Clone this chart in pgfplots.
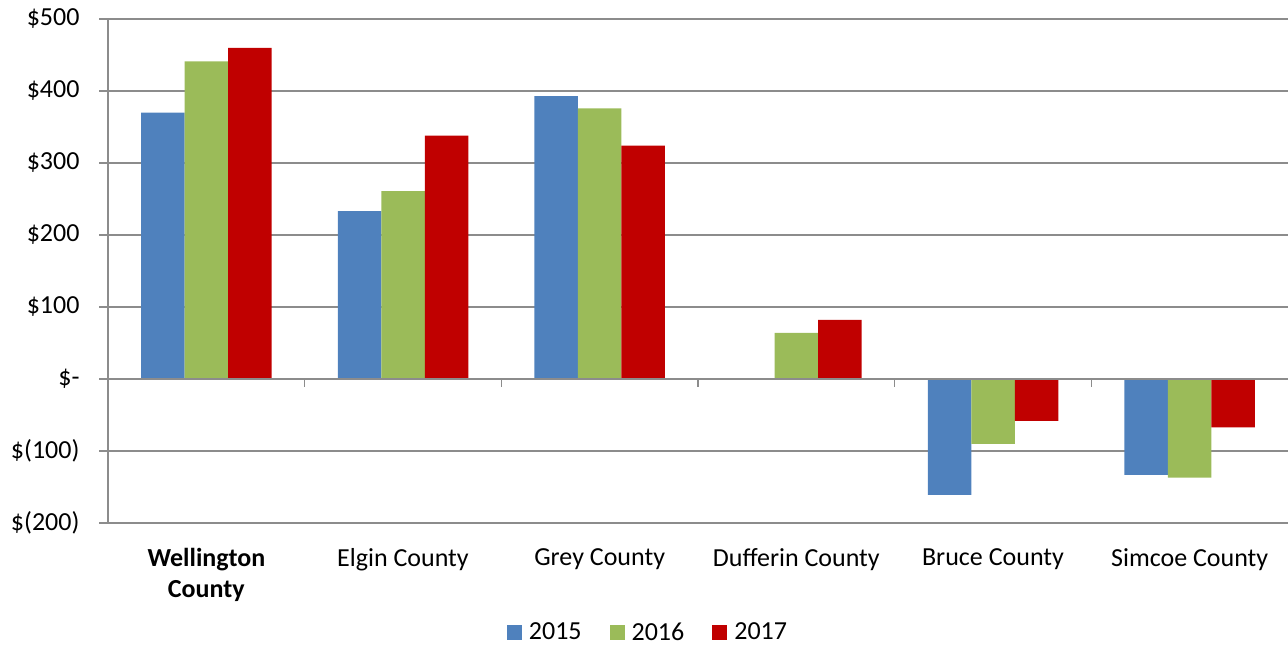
\documentclass[border=0pt]{standalone}
\usepackage{fontspec}
\setmainfont{Carlito}
\usepackage{pgfplots}
\pgfplotsset{compat=1.18}
\definecolor{c15}{HTML}{4F81BD}
\definecolor{c16}{HTML}{9BBB59}
\definecolor{c17}{HTML}{C00000}
\definecolor{gridc}{HTML}{8C8C8C}
\begin{document}
\begin{tikzpicture}
\begin{axis}[
  width=1180pt, height=504pt, scale only axis,
  xmin=-0.5, xmax=5.5, ymin=-200, ymax=500,
  ybar=0pt, bar width=43.5pt,
  axis lines*=left,
  axis line style={draw=gridc, line width=1.2pt},
  xtick={0,...,5},
  xticklabels={{\textbf{Wellington}\\\textbf{County}},Elgin County,Grey County,Dufferin County,Bruce County,Simcoe County},
  xticklabel style={align=center, font=\fontsize{26}{31}\selectfont, yshift=-13pt},
  x tick style={draw=none},
  ytick={-200,-100,...,500},
  yticklabels={
    {\$(200)},
    {\$(100)},
    {\$-\hspace{40pt}},
    {\$100\hspace{10pt}},
    {\$200\hspace{10pt}},
    {\$300\hspace{10pt}},
    {\$400\hspace{10pt}},
    {\$500\hspace{10pt}}},
  yticklabel style={font=\fontsize{26}{31}\selectfont, xshift=-16pt},
  y tick style={draw=gridc, line width=1.2pt},
  tick align=outside, major tick length=9pt,
  ymajorgrids, grid style={draw=gridc, line width=1.2pt},
  legend style={at={(0.4576,0)}, anchor=center, yshift=-109pt, legend columns=-1, draw=none,
    font=\fontsize{26}{31}\selectfont,
    /tikz/every odd column/.append style={column sep=5pt},
    /tikz/every even column/.append style={column sep=26pt}},
  legend image code/.code={\fill[#1] (0pt,-7.5pt) rectangle (15pt,7.5pt);},
]
\addplot[fill=c15, draw=none] coordinates {(0,370) (1,233) (2,393) (3,0) (4,-161) (5,-133)};
\addplot[fill=c16, draw=none] coordinates {(0,441) (1,261) (2,376) (3,64) (4,-90) (5,-137)};
\addplot[fill=c17, draw=none] coordinates {(0,460) (1,338) (2,324) (3,82) (4,-58) (5,-67)};
\legend{2015,2016,2017}
\draw[gridc, line width=1.2pt] (axis cs:-0.5,0) -- (axis cs:5.5,0);
\pgfplotsinvokeforeach{0.5,1.5,2.5,3.5,4.5}{
  \draw[gridc, line width=1.6pt] (axis cs:#1,0) -- (axis cs:#1,-11);
}
\end{axis}
\pgfresetboundingbox
\path[use as bounding box] ([shift={(-108pt,-122pt)}]current axis.south west) rectangle ([shift={(0pt,19pt)}]current axis.north east);
\end{tikzpicture}
\end{document}
